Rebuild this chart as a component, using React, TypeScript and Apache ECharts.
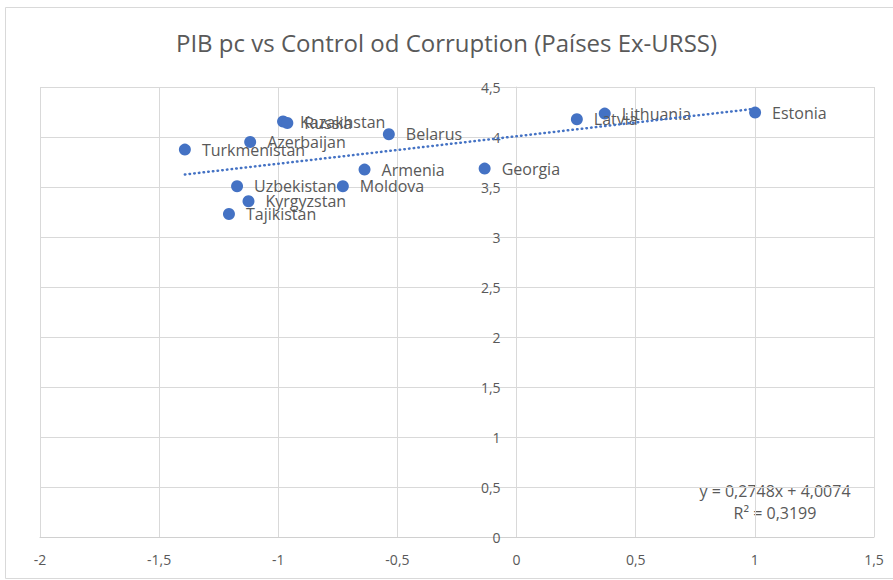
import React, { useEffect, useRef } from "react";
import * as echarts from "echarts";

const countries = ["Estonia", "Lithuania", "Latvia", "Georgia", "Belarus", "Kazakhstan", "Russia", "Azerbaijan", "Turkmenistan", "Armenia", "Moldova", "Uzbekistan", "Kyrgyzstan", "Tajikistan"];
const controlCorruption = [1.001, 0.37, 0.253, -0.134, -0.536, -0.98, -0.962, -1.118, -1.392, -0.638, -0.729, -1.173, -1.125, -1.207];
const pibPc = [4.244, 4.234, 4.177, 3.684, 4.027, 4.155, 4.14, 3.95, 3.874, 3.674, 3.507, 3.507, 3.357, 3.23];
const trendSlope = 0.2748;
const trendIntercept = 4.0074;
const rSquared = 0.3199;
const xTicks = { min: -2, max: 1.5, interval: 0.5 };
const yTicks = { min: 0, max: 4.5, interval: 0.5 };

const comma = (v: number) => String(v).replace(".", ",");
const FONT = "'Open Sans', 'Noto Sans', sans-serif";
const GREY = "#595959";
const GRID_LEFT = 40;

export default function App() {
  const ref = useRef<HTMLDivElement>(null);
  useEffect(() => {
    if (!ref.current) return;
    const chart = echarts.init(ref.current, undefined, { renderer: "svg" });
    const xMin = Math.min(...controlCorruption);
    const xMax = Math.max(...controlCorruption);
    const points = countries.map((c, i) => ({ name: c, value: [controlCorruption[i], pibPc[i]] }));
    chart.setOption({
      animation: false,
      backgroundColor: "#ffffff",
      textStyle: { fontFamily: FONT },
      title: {
        text: "PIB pc vs Control od Corruption (Países Ex-URSS)",
        left: "center",
        top: 25,
        textStyle: { fontFamily: FONT, fontSize: 24, fontWeight: "normal", color: GREY },
      },
      grid: { left: GRID_LEFT, right: 19, top: 87, bottom: 43, containLabel: false },
      xAxis: {
        type: "value",
        min: xTicks.min,
        max: xTicks.max,
        interval: xTicks.interval,
        position: "bottom",
        axisLine: { show: true, onZero: false, lineStyle: { color: "#d0d0d0", width: 1 } },
        axisTick: { show: false },
        splitLine: { show: true, lineStyle: { color: "#d9d9d9", width: 1 } },
        axisLabel: { color: GREY, fontSize: 14, fontFamily: FONT, margin: 15, formatter: comma },
      },
      yAxis: {
        type: "value",
        min: yTicks.min,
        max: yTicks.max,
        interval: yTicks.interval,
        position: "left",
        axisLine: { show: true, onZero: false, lineStyle: { color: "#d9d9d9", width: 1 } },
        axisTick: { show: false },
        splitLine: { show: true, lineStyle: { color: "#d9d9d9", width: 1 } },
        axisLabel: { color: GREY, fontSize: 14, fontFamily: FONT, margin: 16, formatter: comma },
      },
      graphic: [
        { type: "rect", shape: { x: 5.5, y: 7.5, width: 900, height: 571 }, style: { fill: "none", stroke: "#d9d9d9", lineWidth: 1 }, silent: true, z: -1 },
        { type: "text", x: 775, y: 491, style: { text: `y = ${comma(trendSlope)}x + ${comma(trendIntercept)}`, fontFamily: FONT, fontSize: 16, fill: GREY, align: "center", verticalAlign: "middle" } },
        { type: "text", x: 775, y: 513, style: { text: `R² = ${comma(rSquared)}`, fontFamily: FONT, fontSize: 16, fill: GREY, align: "center", verticalAlign: "middle" } },
      ],
      series: [
        {
          type: "scatter",
          data: points,
          symbolSize: 12,
          itemStyle: { color: "#4472C4", opacity: 1 },
          label: {
            show: true,
            position: "right",
            distance: 11,
            formatter: "{b}",
            color: GREY,
            fontSize: 16,
            fontFamily: FONT,
          },
          z: 2,
        },
        {
          type: "line",
          data: [
            [xMin, trendSlope * xMin + trendIntercept],
            [xMax, trendSlope * xMax + trendIntercept],
          ],
          showSymbol: false,
          symbol: "none",
          lineStyle: { color: "#4472C4", width: 2.5, type: [0.5, 4.2], cap: "round" },
          z: 3,
        },
      ],
    });
    // place the vertical axis where x = 0, as in the original (axes cross at zero)
    const zeroPx = chart.convertToPixel({ xAxisIndex: 0 }, 0) as number;
    chart.setOption({ yAxis: { offset: -(zeroPx - GRID_LEFT) } });
    return () => chart.dispose();
  }, []);
  return <div ref={ref} style={{ position: "fixed", left: 0, top: 0, width: 893, height: 580 }} />;
}
